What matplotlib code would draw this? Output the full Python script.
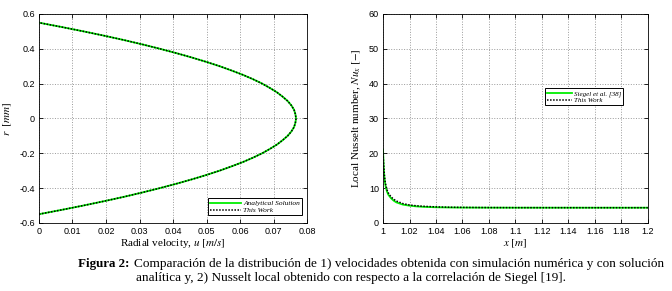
import numpy as np
import matplotlib
matplotlib.use('Agg')
import matplotlib.pyplot as plt

plt.rcParams['mathtext.fontset'] = 'stix'
plt.rcParams['font.family'] = 'Liberation Sans'

# left panel: radial velocity profile
r_mm = [-0.55, -0.525, -0.5, -0.475, -0.45, -0.425, -0.4, -0.375, -0.35, -0.325,
        -0.3, -0.275, -0.25, -0.225, -0.2, -0.175, -0.15, -0.125, -0.1, -0.075,
        -0.05, -0.025, 0.0, 0.025, 0.05, 0.075, 0.1, 0.125, 0.15, 0.175, 0.2,
        0.225, 0.25, 0.275, 0.3, 0.325, 0.35, 0.375, 0.4, 0.425, 0.45, 0.475,
        0.5, 0.525, 0.55]
u_half = [0.0, 0.0068, 0.0133, 0.0195, 0.0254, 0.0309, 0.0361, 0.0410, 0.0456,
          0.0499, 0.0539, 0.0575, 0.0609, 0.0639, 0.0666, 0.0689, 0.0710, 0.0727,
          0.0742, 0.0753, 0.0761, 0.0765, 0.0767]
u_analytic = u_half + u_half[-2::-1]
u_work = list(u_analytic)

# right panel: local Nusselt number
x_m = [1.0, 1.0005, 1.001, 1.0015, 1.002, 1.003, 1.004, 1.006, 1.008, 1.01,
       1.015, 1.02, 1.025, 1.03, 1.04, 1.05, 1.06, 1.08, 1.1, 1.15, 1.2]
nu_siegel = [21.0, 16.0, 13.2, 11.6, 10.4, 9.0, 8.1, 7.1, 6.4, 5.9,
             5.25, 4.95, 4.75, 4.62, 4.49, 4.43, 4.40, 4.38, 4.37, 4.365, 4.364]
nu_work = [20.0, 16.5, 13.8, 12.1, 11.0, 9.5, 8.6, 7.5, 6.8, 6.3,
           5.55, 5.15, 4.92, 4.78, 4.60, 4.50, 4.45, 4.40, 4.38, 4.37, 4.365]

fig = plt.figure(figsize=(6.72, 2.91), dpi=100)
ax1 = fig.add_axes([0.058, 0.234, 0.399, 0.718])
ax2 = fig.add_axes([0.570, 0.234, 0.394, 0.718])

serif = 'Liberation Serif'

def style(ax):
    ax.grid(True, color='#9a9a9a', linestyle=':', linewidth=0.7)
    ax.tick_params(direction='in', top=True, right=True, labelsize=6.5,
                   length=3, width=0.6, pad=3)
    for s in ax.spines.values():
        s.set_linewidth(0.6)

ax1.plot(u_analytic, r_mm, color='#00ee00', lw=1.3, label='Analytical Solution')
ax1.plot(u_work, r_mm, color='black', lw=1.1, ls=(0, (1, 1)), label='This Work')
ax1.set_xlim(0, 0.08)
ax1.set_ylim(-0.6, 0.6)
ax1.set_xticks(np.arange(0, 0.081, 0.01))
ax1.set_xticklabels(['0', '0.01', '0.02', '0.03', '0.04', '0.05', '0.06', '0.07', '0.08'])
ax1.set_yticks(np.arange(-0.6, 0.61, 0.2))
ax1.set_yticklabels(['-0.6', '-0.4', '-0.2', '0', '0.2', '0.4', '0.6'])
style(ax1)
ax1.set_xlabel(r'Radial velocity, $u\ [m/s]$', family=serif, fontsize=8, labelpad=1)
ax1.set_ylabel(r'$r\ \ [mm]$', family=serif, fontsize=8, labelpad=4)
leg1 = ax1.legend(loc='lower right', prop={'family': serif, 'style': 'italic', 'size': 5.3},
                  handlelength=4.2, handletextpad=0.3, borderpad=0.25, labelspacing=0.1,
                  fancybox=False, edgecolor='black', framealpha=1,
                  bbox_to_anchor=(0.995, 0.02))
leg1.get_frame().set_linewidth(0.7)

ax2.plot(x_m, nu_siegel, color='#00ee00', lw=1.3, label='Siegel et al. [38]')
ax2.plot(x_m, nu_work, color='black', lw=1.1, ls=(0, (1, 1)), label='This Work')
ax2.set_xlim(1, 1.2)
ax2.set_ylim(0, 60)
ax2.set_xticks(np.arange(1.0, 1.201, 0.02))
ax2.set_xticklabels(['1', '1.02', '1.04', '1.06', '1.08', '1.1', '1.12', '1.14', '1.16', '1.18', '1.2'])
ax2.set_yticks(np.arange(0, 61, 10))
style(ax2)
ax2.set_xlabel(r'$x\ [m]$', family=serif, fontsize=8, labelpad=1)
ax2.set_ylabel(r'Local Nusselt number, $Nu_x\ [-]$', family=serif, fontsize=8, labelpad=4)
leg2 = ax2.legend(loc='upper left', prop={'family': serif, 'style': 'italic', 'size': 5.0},
                  handlelength=3.6, handletextpad=0.3, borderpad=0.25, labelspacing=0.1,
                  fancybox=False, edgecolor='black', framealpha=1,
                  bbox_to_anchor=(0.60, 0.66))
leg2.get_frame().set_linewidth(0.7)

fig.text(0.116, 0.083, 'Figura 2:', family=serif, fontsize=9.4, weight='bold', va='baseline')
fig.text(0.199, 0.083, 'Comparación de la distribución de 1) velocidades obtenida con simulación numérica y con solución',
         family=serif, fontsize=9.55, va='baseline')
fig.text(0.202, 0.034, 'analítica y, 2) Nusselt local obtenido con respecto a la correlación de Siegel [19].',
         family=serif, fontsize=9.55, va='baseline')

fig.savefig('out.png', dpi=100)
